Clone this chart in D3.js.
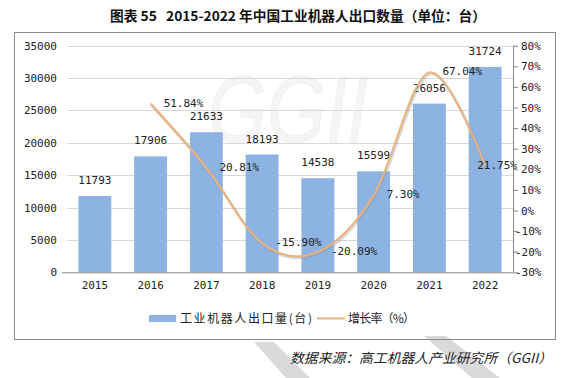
<!DOCTYPE html>
<html><head><meta charset="utf-8">
<script src="https://cdn.jsdelivr.net/npm/d3@7"></script>
<style>
html,body{margin:0;padding:0;background:#fff;}
svg{display:block;}
</style></head>
<body>
<svg id="chart" width="563" height="378"></svg>
<script>
const years = ["2015","2016","2017","2018","2019","2020","2021","2022"];
const exportUnits = [11793, 17906, 21633, 18193, 14538, 15599, 26056, 31724];
const growth = [null, 51.84, 20.81, -15.90, -20.09, 7.30, 67.04, 21.75];
const leftTicks = [0, 5000, 10000, 15000, 20000, 25000, 30000, 35000];
const rightTicks = [-30, -20, -10, 0, 10, 20, 30, 40, 50, 60, 70, 80];
const title = "图表 55   2015-2022 年中国工业机器人出口数量（单位：台）";
const seriesNames = ["工业机器人出口量(台)", "增长率（%）"];
const source = "数据来源：高工机器人产业研究所（GGII）";

const svg = d3.select("#chart");
const numFont = "'DejaVu Sans Mono', monospace";
const cjkFont = "'Noto Sans CJK SC', sans-serif";
const fmtPct = d => (d < 0 ? "-" : "") + d3.format(".2f")(Math.abs(d)) + "%";

const pLeft = 67, pRight = 513, pTop = 45.7, pBottom = 272.3;
const x = d3.scaleBand().domain(years).range([pLeft, pRight]).paddingInner(0.41).paddingOuter(0.205);
const yL = d3.scaleLinear().domain([0, 35000]).range([pBottom, pTop]);
const yR = d3.scaleLinear().domain([-30, 80]).range([pBottom, pTop]);

// bottom watermark stripes
svg.append("polygon").attr("points", "254,342 274,342 310,378 286,378").attr("fill", "#dadada");
svg.append("polygon").attr("points", "424,336 446,336 500,378 472,378").attr("fill", "#dadada");

// title
svg.append("text").attr("x", 110).attr("y", 21).attr("textLength", 376).attr("lengthAdjust", "spacingAndGlyphs")
  .style("white-space", "pre")
  .attr("font-family", cjkFont).attr("font-weight", 700).attr("font-size", 13.5).attr("fill", "#111").text(title);

// frame
svg.append("rect").attr("x", 14.5).attr("y", 32.5).attr("width", 541).attr("height", 307).attr("fill", "none").attr("stroke", "#8c8c8c").attr("stroke-width", 1);

// GGII watermark
svg.append("text").attr("x", 208).attr("y", 142).attr("textLength", 160).attr("lengthAdjust", "spacingAndGlyphs")
  .attr("font-family", "'Liberation Sans', sans-serif").attr("font-style", "italic").attr("font-size", 95)
  .attr("fill", "#f5f5f5").attr("stroke", "#eeeeee").attr("stroke-width", 0.8).text("GGII");

// gridlines
svg.append("g").selectAll("line").data(leftTicks.filter(d => d > 0)).join("line")
  .attr("x1", pLeft).attr("x2", pRight).attr("y1", d => Math.round(yL(d)) + 0.5).attr("y2", d => Math.round(yL(d)) + 0.5)
  .attr("stroke", "#d9d9d9");

// left axis labels
const gL = svg.append("g").attr("transform", `translate(${pLeft},0)`)
  .call(d3.axisLeft(yL).tickValues(leftTicks).tickSize(0).tickPadding(10).tickFormat(d3.format("d")));
gL.select(".domain").remove();
gL.selectAll("text").attr("font-family", numFont).attr("font-size", 11).attr("fill", "#222");

// bars
svg.append("g").selectAll("rect").data(exportUnits).join("rect")
  .attr("x", (d, i) => x(years[i])).attr("width", x.bandwidth())
  .attr("y", d => yL(d)).attr("height", d => pBottom - yL(d))
  .attr("fill", "#8db3e2");

// bar labels
svg.append("g").selectAll("text").data(exportUnits).join("text")
  .attr("x", (d, i) => x(years[i]) + x.bandwidth() / 2).attr("y", d => yL(d) - 12)
  .attr("text-anchor", "middle").attr("font-family", numFont).attr("font-size", 11).attr("fill", "#222")
  .text(d => d);

// x axis
const gX = svg.append("g").attr("transform", `translate(0,${pBottom})`)
  .call(d3.axisBottom(x).tickSize(0).tickPadding(9));
gX.select(".domain").attr("stroke", "#868686").attr("d", `M${pLeft - 5},0.5H${pRight}`);
gX.selectAll("text").attr("font-family", numFont).attr("font-size", 11).attr("fill", "#222");

// right axis
const gR = svg.append("g").attr("transform", `translate(${pRight},0)`)
  .call(d3.axisRight(yR).tickValues(rightTicks).tickSize(5).tickPadding(3).tickFormat(d => (d < 0 ? "-" : "") + Math.abs(d) + "%"));
gR.select(".domain").attr("stroke", "#868686").attr("d", `M0.5,${pTop}V${pBottom}`);
gR.selectAll("line").attr("stroke", "#868686");
gR.selectAll("text").attr("font-family", numFont).attr("font-size", 11).attr("fill", "#222")
  .attr("x", d => d < 0 ? 2 : 8);

// growth line
const pts = growth.map((g, i) => g === null ? null : [x(years[i]) + x.bandwidth() / 2, yR(g)]).filter(p => p);
const line = d3.line().curve(d3.curveCardinal.tension(0));
svg.append("path").attr("d", line(pts)).attr("transform", "translate(1,1.5)")
  .attr("fill", "none").attr("stroke", "#9a9a9a").attr("stroke-opacity", 0.4).attr("stroke-width", 3);
svg.append("path").attr("d", line(pts))
  .attr("fill", "none").attr("stroke", "#ecb27c").attr("stroke-width", 2);

// growth labels
const gl = svg.append("g");
growth.forEach((g, i) => {
  if (g === null) return;
  const cx = x(years[i]) + x.bandwidth() / 2;
  const t = gl.append("text").attr("x", cx + 13).attr("y", yR(g) + 3)
    .attr("font-family", numFont).attr("font-size", 11).attr("fill", "#222")
    .text(fmtPct(g));
  const w = t.node().getComputedTextLength();
  if (cx + 13 + w > 517) t.attr("x", 517 - w);
});

// legend
const lg = svg.append("g");
lg.append("rect").attr("x", 149).attr("y", 315).attr("width", 27).attr("height", 7).attr("fill", "#8db3e2");
lg.append("text").attr("x", 180).attr("y", 322.5).attr("textLength", 132).attr("lengthAdjust", "spacing")
  .attr("font-family", cjkFont).attr("font-size", 12).attr("fill", "#222").text(seriesNames[0]);
lg.append("line").attr("x1", 317).attr("x2", 345).attr("y1", 318.5).attr("y2", 318.5).attr("stroke", "#ecb27c").attr("stroke-width", 2);
lg.append("text").attr("x", 348).attr("y", 322.5).attr("textLength", 67).attr("lengthAdjust", "spacing")
  .attr("font-family", cjkFont).attr("font-size", 12).attr("fill", "#222").text(seriesNames[1]);

// source
svg.append("text").attr("x", 290).attr("y", 363).attr("textLength", 262).attr("lengthAdjust", "spacingAndGlyphs")
  .attr("font-family", cjkFont).attr("font-style", "italic").attr("font-size", 13.5).attr("fill", "#222").text(source);
</script>
</body></html>
